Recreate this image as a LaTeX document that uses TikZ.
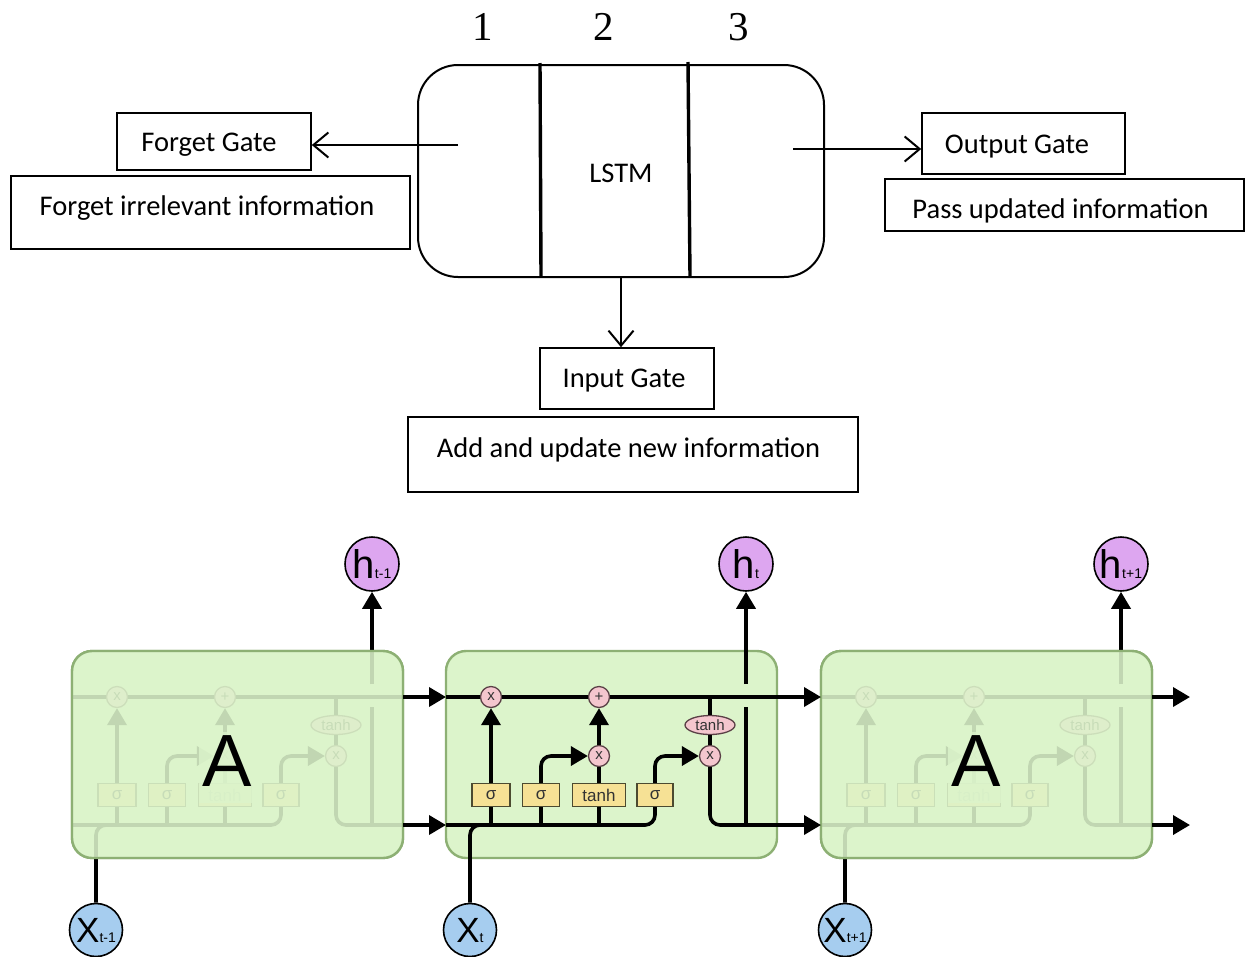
\documentclass[tikz,border=0pt]{standalone}
\usepackage{fontspec}
\setmainfont{Carlito}
\newfontfamily\serifdigits{Liberation Serif}
\newfontfamily\cellfont{Liberation Sans}
\usetikzlibrary{arrows.meta,calc,shapes.geometric}

\definecolor{cellfill}{HTML}{DCF4CB}
\definecolor{celledge}{HTML}{8DB074}
\definecolor{gatefill}{HTML}{F6E195}
\definecolor{gateedge}{HTML}{4B4A30}
\definecolor{opfill}{HTML}{F4C6CE}
\definecolor{opedge}{HTML}{5A4046}
\definecolor{hfill}{HTML}{DDA6F0}
\definecolor{xfill}{HTML}{A6CDEF}

% shift text inside a node without changing the node size
% #1 vertical lift, #2 extra room on the right (pushes the text left), #3 text
\newcommand\liftby[3]{\raisebox{#1}[\height][\depth]{#3}\hspace*{#2}}

\tikzset{
  num/.style={font=\serifdigits\fontsize{41}{41}\selectfont, inner sep=0pt},
  lbl/.style={draw, line width=1.6pt, inner sep=0pt,
    font=\fontsize{28.5}{30}\selectfont},
  barb/.style={line width=2pt, -{Straight Barb[length=15pt,width=25pt]}},
  divider/.style={line width=3.4pt},
  wire/.style={line width=3.6pt},
  tip/.style={line width=3.6pt, -{Triangle[length=17pt,width=19pt]}},
  cellbox/.style={draw=celledge, line width=2.4pt, fill=cellfill,
    rounded corners=20pt, minimum width=331pt, minimum height=207pt},
  gate/.style={draw=gateedge, line width=1.3pt, fill=gatefill,
    minimum height=23pt, inner sep=0pt,
    font=\cellfont\fontsize{17}{17}\selectfont, text=black!80},
  op/.style={circle, draw=opedge, line width=1.3pt, fill=opfill,
    minimum size=21pt, inner sep=0pt,
    font=\cellfont\fontsize{15}{15}\selectfont, text=black!80},
  opell/.style={ellipse, draw=opedge, line width=1.3pt, fill=opfill,
    minimum width=50pt, minimum height=19pt, inner sep=0pt,
    font=\cellfont\fontsize{15}{15}\selectfont, text=black!80},
  hcirc/.style={circle, draw, line width=1.6pt, fill=hfill,
    minimum size=54pt, inner sep=0pt},
  xcirc/.style={circle, draw, line width=1.6pt, fill=xfill,
    minimum size=53pt, inner sep=0pt},
  bigA/.style={font=\cellfont\fontsize{74}{74}\selectfont, inner sep=3pt,
    text depth=14pt, anchor=base,
    fill=cellfill, fill opacity=0.8, text opacity=1},
  veil/.style={cellbox, fill opacity=0.88},
}

% wiring of one LSTM cell, coordinates relative to the cell's top-left corner
% #1 name prefix, #2 time subscript
\newcommand\cellparts[2]{%
  \coordinate (#1csL) at (0,46);
  \coordinate (#1csR) at (331,46);
  \coordinate (#1csOut) at (369,46);
  \coordinate (#1hidL) at (0,174);
  \coordinate (#1hidR) at (331,174);
  \coordinate (#1hidOut) at (369,174);
  % layer gates
  \node[gate, minimum width=38pt] (#1s1) at (45,144) {σ};
  \node[gate, minimum width=37pt] (#1s2) at (95,144) {σ};
  \node[gate, minimum width=53pt] (#1g)  at (153,144) {tanh};
  \node[gate, minimum width=36pt] (#1s4) at (209,144) {σ};
  % pointwise operations
  \node[op] (#1f) at (45,46) {x};
  \node[op] (#1a) at (153,46) {+};
  \node[op] (#1i) at (153,105) {x};
  \node[op] (#1o) at (264,105) {x};
  \node[opell] (#1th) at (264,74) {tanh};
  % output and input
  \node[hcirc] (#1h) at (300,-87)
    {{\cellfont\fontsize{40}{40}\selectfont h}{\cellfont\fontsize{14}{14}\selectfont #2}};
  \node[xcirc] (#1x) at (24,279)
    {{\cellfont\fontsize{35}{35}\selectfont X}{\cellfont\fontsize{14}{14}\selectfont #2}};
  % cell state
  \draw[wire] (#1csL) -- (#1f);
  \draw[wire] (#1f) -- (#1a);
  \draw[wire] (#1a) -- (#1csR);
  % output branch
  \draw[wire] (264,46) -- (#1th);
  \draw[wire] (#1th) -- (#1o);
  \draw[wire, rounded corners=10pt] (#1o.south) -- (264,174) -- (#1hidR);
  \draw[wire] (300,174) -- (300,56);
  \draw[tip] (300,33) -- (#1h);
  % hidden state rail feeding the gates
  \draw[wire, rounded corners=10pt] (#1hidL) -- (209,174) -- (#1s4.south);
  \draw[wire] (45,174) -- (#1s1);
  \draw[wire] (95,174) -- (#1s2);
  \draw[wire] (153,174) -- (#1g);
  \draw[wire, rounded corners=10pt] (#1x) -- (24,174) -- (60,174);
  % gate outputs
  \draw[tip] (#1s1) -- (#1f);
  \draw[tip, rounded corners=10pt] (#1s2.north) -- (95,105) -- (#1i);
  \draw[wire] (#1g) -- (#1i);
  \draw[tip] (#1i) -- (#1a);
  \draw[tip, rounded corners=10pt] (#1s4.north) -- (209,105) -- (#1o);
}

\begin{document}
\begin{tikzpicture}[x=1pt,y=-1pt]
\useasboundingbox (0,0) rectangle (1246,956);

% ---------- gate overview ----------
\node[num] (n1) at (483,27) {1};
\node[num] (n2) at (604,27) {2};
\node[num] (n3) at (739,27) {3};

\node[draw, line width=2pt, rounded corners=40pt, minimum width=406pt,
  minimum height=212pt, inner sep=0pt, font=\fontsize{28.5}{30}\selectfont]
  (lstm) at (621,171) {\liftby{-2pt}{0pt}{LSTM}};
\coordinate (d1t) at (540,63);
\coordinate (d1b) at (541,277);
\coordinate (d2t) at (688,62);
\coordinate (d2b) at (690,277);
\draw[divider] (d1t) -- (d1b);
\draw[divider] (d2t) -- (d2b);

\node[lbl, minimum width=194pt, minimum height=57pt] (fg) at (214,141.5)
  {\liftby{-3pt}{10pt}{Forget Gate}};
\node[lbl, minimum width=399pt, minimum height=73pt] (fi) at (210.5,212.5)
  {\liftby{4pt}{7pt}{Forget irrelevant information}};
\node[lbl, minimum width=203pt, minimum height=61pt] (og) at (1023.5,143.5)
  {\liftby{-3pt}{13pt}{Output Gate}};
\node[lbl, minimum width=359pt, minimum height=52pt] (pu) at (1064.5,205)
  {\liftby{-6pt}{8pt}{Pass updated information}};
\node[lbl, minimum width=174pt, minimum height=61pt] (ig) at (627,378.5)
  {\liftby{-2pt}{6pt}{Input Gate}};
\node[lbl, minimum width=450pt, minimum height=75pt] (ai) at (633,454.5)
  {\liftby{4.5pt}{9pt}{Add and update new information}};

\coordinate (fgsrc) at (458,145);
\coordinate (ogsrc) at (793,149);
\draw[barb] (fgsrc) -- ([yshift=-3.5pt]fg.east);
\draw[barb] (ogsrc) -- ([yshift=-5.5pt]og.west);
\draw[barb] (lstm.south) -- (lstm.south |- ig.north);

% ---------- unrolled cells ----------
\begin{scope}[shift={(72,651)}]
  \node[cellbox] (lbase) at (165.5,103.5) {};
  \cellparts{l}{t-1}
  \node[veil] (lbox) at (165.5,103.5) {};
  \node[bigA] (lA) at (155,135) {A};
\end{scope}

\begin{scope}[shift={(446,651)}]
  \node[cellbox] (mbox) at (165.5,103.5) {};
  \cellparts{m}{t}
\end{scope}

\begin{scope}[shift={(821,651)}]
  \node[cellbox] (rbase) at (165.5,103.5) {};
  \cellparts{r}{t+1}
  \node[veil] (rbox) at (165.5,103.5) {};
  \node[bigA] (rA) at (155,135) {A};
\end{scope}

% links between neighbouring cells
\draw[tip] (lcsR) -- (mcsL);
\draw[tip] (lhidR) -- (mhidL);
\draw[tip] (mcsR) -- (rcsL);
\draw[tip] (mhidR) -- (rhidL);
\draw[tip] (rcsR) -- (rcsOut);
\draw[tip] (rhidR) -- (rhidOut);
\end{tikzpicture}
\end{document}
